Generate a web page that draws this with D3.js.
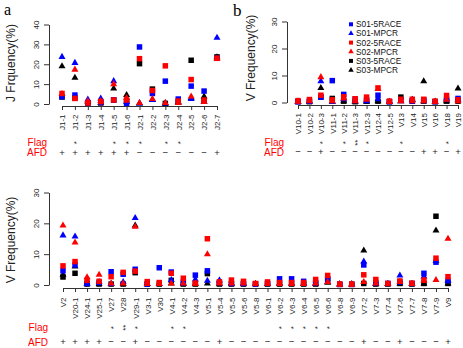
<!DOCTYPE html>
<html>
<head>
<meta charset="utf-8">
<script src="https://cdn.jsdelivr.net/npm/d3@7"></script>
<style>
  body { margin: 0; background: #fff; }
  svg { display: block; font-family: "Liberation Sans", Arial, sans-serif; }
</style>
</head>
<body>
<svg width="463" height="348"></svg>
<script>
const seriesNames = ["S01-5RACE", "S01-MPCR", "S02-5RACE", "S02-MPCR", "S03-5RACE", "S03-MPCR"];
const seriesColors = ["#0000ff", "#0000ff", "#ff0000", "#ff0000", "#000000", "#000000"];
const seriesShapes = ["square", "triangle", "square", "triangle", "square", "triangle"];
// black first, then blue, red on top
const drawOrder = [4, 5, 0, 1, 2, 3];

// panel a : J genes
const jGenes = ["J1-1", "J1-2", "J1-3", "J1-4", "J1-5", "J1-6", "J2-1", "J2-2", "J2-3", "J2-4", "J2-5", "J2-6", "J2-7"];
const jS01Race = [3.7, 4.5, 0.5, 0.8, 2, 0.3, 28.7, 5.3, 11.5, 2.5, 9, 6.5, 23];
const jS01Mpcr = [23.7, 20.7, 2.3, 2.8, 11.5, 1, 0.3, 2, 0.3, 0.5, 2.5, 1, 33.3];
const jS02Race = [5.3, 2.8, 0.5, 1.2, 2, 2, 22.8, 6.8, 19.2, 1.5, 12.3, 2, 23];
const jS02Mpcr = [5, 17.3, 1.5, 1.5, 10, 3, 0.5, 2.5, 0.5, 0.5, 3.8, 1, 22.8];
const jS03Race = [3.5, 3, 0.5, 0.5, 2, 1.5, 20.3, 7.5, 0.3, 1, 22, 2, 23.7];
const jS03Mpcr = [19, 13.2, 1, 0.5, 7.8, 4.5, 0.3, 2, 0.3, 1, 3, 3.8, 23.5];
const jFlags = ["", "*", "", "", "*", "*", "*", "", "*", "*", "", "", ""];
const jAfd = ["+", "+", "+", "+", "+", "+", "-", "-", "-", "-", "-", "-", "+"];
const jTicks = [0, 10, 20, 30, 40];

// panel b : V genes (part 1)
const vGenesB = ["V10-1", "V10-2", "V10-3", "V11-1", "V11-2", "V11-3", "V12-3", "V12-4", "V12-5", "V13", "V14", "V15", "V16", "V18", "V19"];
const bS01Race = [0.3, 0.5, 2, 8.1, 3, 1.2, 1, 2.7, 0.3, 1, 0.5, 1, 0.3, 1.2, 1.5];
const bS01Mpcr = [0.3, 0.5, 7.9, 0.3, 1.2, 0.5, 0.5, 1.2, 0.3, 0.5, 1, 0.5, 0.3, 1.5, 1];
const bS02Race = [0.7, 1.1, 2.7, 1, 2.1, 1.4, 2, 5.4, 0.5, 1.2, 1.2, 1.2, 0.5, 2.6, 1];
const bS02Mpcr = [0.3, 0.5, 9.4, 0.5, 1.5, 0.5, 1, 5, 0.3, 0.5, 0.5, 0.5, 0.3, 1, 0.5];
const bS03Race = [0.3, 0.3, 2, 1.5, 0.5, 0.3, 0.5, 0.5, 0.3, 2, 0.5, 0.5, 0.3, 0.5, 0.5];
const bS03Mpcr = [0.3, 0.3, 5.4, 0.3, 0.5, 0.3, 0.3, 0.5, 0.3, 0.5, 1, 7.9, 0.3, 0.5, 5.2];
const bFlags = ["", "", "*", "", "*", "**", "*", "", "", "*", "", "", "", "*", ""];
const bAfd = ["-", "-", "+", "-", "-", "-", "-", "-", "-", "-", "-", "+", "+", "-", "+"];
const vTicks = [0, 10, 20, 30];

// panel c : V genes (part 2)
const vGenesC = ["V2", "V20-1", "V24-1", "V25-1", "V27", "V28", "V29-1", "V3-1", "V30", "V4-1", "V4-2", "V4-3",
  "V5-1", "V5-4", "V5-5", "V5-6", "V5-8", "V6-1", "V6-2", "V6-3", "V6-4", "V6-5", "V6-6", "V6-8", "V6-9",
  "V7-2", "V7-3", "V7-4", "V7-6", "V7-7", "V7-8", "V7-9", "V9"];
const cS01Race = [4.6, 6.5, 0.5, 0.8, 4.3, 3.5, 5.1, 0.3, 5.6, 4.2, 1, 3.2, 4.6, 0.8, 0.5, 0.5, 0.3, 0.5, 2, 2, 1.2, 0.8, 1.7, 0.2, 0.2, 6.5, 0.8, 0.5, 1, 0.5, 3.8, 7.4, 1.4];
const cS01Mpcr = [16.1, 15.7, 0.5, 1, 0.3, 1, 21.7, 0.3, 0.3, 1.6, 0.5, 1.8, 1.4, 1.5, 0.5, 0.5, 0.3, 0.3, 0.5, 0.5, 0.5, 0.5, 1, 0.2, 0.2, 7.6, 0.5, 0.3, 3.1, 0.3, 2.8, 7.8, 1.5];
const cS02Race = [6.2, 7.6, 1.5, 1.2, 2.7, 4.1, 4.5, 1.1, 0.8, 3.8, 2.2, 0.6, 15, 1, 1.6, 1.2, 0.5, 1, 0.8, 0.8, 0.8, 1.8, 3.1, 0.3, 0.3, 3.3, 1.8, 0.5, 1.3, 0.6, 1.6, 8.7, 2.7];
const cS02Mpcr = [19.3, 13.8, 2.5, 3.3, 0.5, 0.5, 18.9, 0.3, 0.3, 0.5, 0.5, 0.5, 10, 0.5, 0.5, 0.5, 0.3, 0.3, 0.3, 0.3, 0.3, 0.5, 1, 0.2, 0.2, 1, 0.5, 0.3, 1, 0.3, 1.5, 1.6, 15];
const cS03Race = [2.6, 3.8, 0.3, 0.3, 0.3, 0.3, 4, 0.3, 0.3, 1.5, 0.3, 0.3, 3.7, 0.3, 0.3, 0.3, 0.3, 0.3, 0.3, 0.3, 0.3, 0.3, 2, 0.2, 0.2, 0.5, 0.3, 0.3, 0.5, 0.3, 0.5, 22.3, 0.5];
const cS03Mpcr = [3.3, 6, 0.5, 0.3, 0.3, 0.3, 19.3, 0.3, 0.3, 0.5, 0.3, 0.3, 0.5, 0.3, 0.3, 0.3, 0.3, 0.3, 0.3, 0.3, 0.3, 0.3, 0.7, 0.2, 0.2, 11.2, 0.3, 0.3, 0.5, 0.3, 0.5, 17.7, 0.5];
const cFlags = ["", "", "", "", "*", "**", "*", "", "", "*", "*", "", "", "", "", "", "", "", "*", "*", "*", "*", "*", "", "", "", "", "", "", "", "", "", ""];
const cAfd = ["+", "+", "+", "+", "-", "-", "+", "-", "-", "-", "-", "-", "-", "+", "-", "-", "-", "-", "-", "-", "-", "-", "-", "-", "-", "+", "-", "-", "+", "-", "-", "-", "+"];

const svg = d3.select("svg");
const axisColor = "#333";

const symbolPath = (shape, size) =>
  shape === "square"
    ? d3.symbol(d3.symbolSquare, size * size)()
    : d3.symbol(d3.symbolTriangle, (Math.sqrt(3) / 4) * size * size)();

const drawPanel = (p) => {
  const x = d3.scalePoint().domain(p.genes).range([p.x0, p.x1]);
  const y = d3.scaleLinear().domain([0, p.ymax]).range([p.y0, p.y1]);
  const g = svg.append("g");

  const yAxis = g.append("g")
    .attr("transform", `translate(${p.axisX},0)`)
    .call(d3.axisLeft(y).tickValues(p.yTicks).tickSize(5).tickSizeOuter(0));
  yAxis.attr("font-family", null).attr("font-size", 8);
  yAxis.select(".domain").attr("stroke", axisColor);
  yAxis.selectAll(".tick line").attr("stroke", axisColor);
  yAxis.selectAll(".tick text")
    .attr("x", 0).attr("dy", 0)
    .attr("transform", "translate(-10,0) rotate(-90)")
    .attr("text-anchor", "middle")
    .attr("fill", "#222");

  const xAxis = g.append("g")
    .attr("transform", `translate(0,${p.axisY})`)
    .call(d3.axisBottom(x).tickSize(4).tickSizeOuter(0));
  xAxis.attr("font-family", null).attr("font-size", 8);
  xAxis.select(".domain").attr("stroke", axisColor);
  xAxis.selectAll(".tick line").attr("stroke", axisColor);
  xAxis.selectAll(".tick text")
    .attr("x", 0).attr("y", 0).attr("dy", "0.35em")
    .attr("transform", `translate(0,${p.labelOffset}) rotate(-90)`)
    .attr("text-anchor", "end")
    .attr("fill", "#222");

  // y title
  g.append("text")
    .attr("transform", `translate(${p.titleX},${p.titleY}) rotate(-90)`)
    .attr("text-anchor", "middle")
    .attr("font-size", 12)
    .attr("fill", "#222")
    .text(p.title);

  // points
  drawOrder.forEach((s) => {
    g.append("g")
      .selectAll("path")
      .data(p.series[s])
      .join("path")
      .attr("d", symbolPath(seriesShapes[s], seriesShapes[s] === "square" ? 5.5 : 7))
      .attr("transform", (d, i) => `translate(${x(p.genes[i])},${y(d)})`)
      .attr("fill", seriesColors[s]);
  });

  // Flag and AFD rows
  g.append("text").attr("x", p.rowLabelX).attr("y", p.flagY + 3.6)
    .attr("text-anchor", "end").attr("font-size", 10).attr("fill", "#ff0000").text("Flag");
  g.append("text").attr("x", p.rowLabelX).attr("y", p.afdY + 3.6)
    .attr("text-anchor", "end").attr("font-size", 10).attr("fill", "#ff0000").text("AFD");

  g.append("g").selectAll("text")
    .data(p.flags)
    .join("text")
    .attr("transform", (d, i) => `translate(${x(p.genes[i]) + 4.5},${p.flagY}) rotate(-90)`)
    .attr("text-anchor", "middle")
    .attr("font-size", 8)
    .attr("fill", "#222")
    .text((d) => d);

  g.append("g").selectAll("text")
    .data(p.afd)
    .join("text")
    .attr("x", (d, i) => x(p.genes[i]))
    .attr("y", p.afdY + 3)
    .attr("text-anchor", "middle")
    .attr("font-size", 9.5)
    .attr("fill", "#222")
    .text((d) => (d === "-" ? "\u2212" : "+"));

  return g;
};

drawPanel({
  genes: jGenes,
  series: [jS01Race, jS01Mpcr, jS02Race, jS02Mpcr, jS03Race, jS03Mpcr],
  flags: jFlags, afd: jAfd, yTicks: jTicks, ymax: 40,
  x0: 62, x1: 217, y0: 104, y1: 24.5, axisX: 49, axisY: 106, labelOffset: 8.5,
  title: "J Frquency(%)", titleX: 14.5, titleY: 63,
  rowLabelX: 47, flagY: 142.7, afdY: 152.7
});

const gb = drawPanel({
  genes: vGenesB,
  series: [bS01Race, bS01Mpcr, bS02Race, bS02Mpcr, bS03Race, bS03Mpcr],
  flags: bFlags, afd: bAfd, yTicks: vTicks, ymax: 30,
  x0: 298, x1: 458, y0: 102.5, y1: 21.5, axisX: 287, axisY: 105, labelOffset: 8,
  title: "V Frequency(%)", titleX: 255, titleY: 58,
  rowLabelX: 284, flagY: 142.7, afdY: 152.3
});

drawPanel({
  genes: vGenesC,
  series: [cS01Race, cS01Mpcr, cS02Race, cS02Mpcr, cS03Race, cS03Mpcr],
  flags: cFlags, afd: cAfd, yTicks: vTicks, ymax: 30,
  x0: 63, x1: 448, y0: 285, y1: 192.5, axisX: 49, axisY: 288, labelOffset: 9.5,
  title: "V Frequency(%)", titleX: 15, titleY: 240,
  rowLabelX: 48, flagY: 327.7, afdY: 342.3
});

// legend in panel b
const legend = gb.append("g").selectAll("g")
  .data(seriesNames)
  .join("g")
  .attr("transform", (d, i) => `translate(351,${24.3 + i * 9.15})`);
legend.append("path")
  .attr("d", (d, i) => symbolPath(seriesShapes[i], seriesShapes[i] === "square" ? 4 : 5.5))
  .attr("fill", (d, i) => seriesColors[i]);
legend.append("text")
  .attr("x", 5).attr("dy", "0.35em")
  .attr("font-size", 8.3)
  .attr("fill", "#111")
  .text((d) => d);

// panel letters
svg.append("text").attr("x", 4).attr("y", 14.5).attr("font-family", "Liberation Serif, serif")
  .attr("font-size", 16).text("a");
svg.append("text").attr("x", 233).attr("y", 15.5).attr("font-family", "Liberation Serif, serif")
  .attr("font-size", 17).text("b");
</script>
</body>
</html>
